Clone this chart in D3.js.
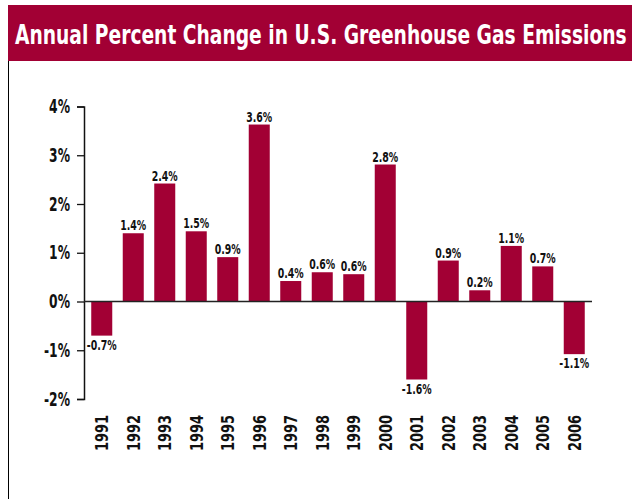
<!DOCTYPE html>
<html>
<head>
<meta charset="utf-8">
<script src="https://cdn.jsdelivr.net/npm/d3@7"></script>
<style>
  body { margin: 0; background: #fff; }
  text { font-family: "DejaVu Sans Condensed", "Liberation Sans Narrow", "Roboto", sans-serif; font-weight: bold; }
</style>
</head>
<body>
<svg width="632" height="499"></svg>
<script>
var years = ["1991","1992","1993","1994","1995","1996","1997","1998","1999","2000","2001","2002","2003","2004","2005","2006"];
var changes = [-0.70, 1.40, 2.42, 1.44, 0.91, 3.63, 0.42, 0.60, 0.56, 2.81, -1.60, 0.84, 0.23, 1.14, 0.72, -1.08];   // bar heights
var valueLabels = ["-0.7%","1.4%","2.4%","1.5%","0.9%","3.6%","0.4%","0.6%","0.6%","2.8%","-1.6%","0.9%","0.2%","1.1%","0.7%","-1.1%"];
var yTicks = [-2, -1, 0, 1, 2, 3, 4];
var title = "Annual Percent Change in U.S. Greenhouse Gas Emissions";

var red = "#a20034";
var narrow = 0.72;   // horizontal squeeze, the original uses a condensed face

var svg = d3.select("svg"),
    width = +svg.attr("width"),
    height = +svg.attr("height");

var data = years.map(function(y, i) { return {year: y, value: changes[i], label: valueLabels[i]}; });

// title bar + left frame line
svg.append("rect")
    .attr("x", 8).attr("y", 5)
    .attr("width", width - 8).attr("height", 56)
    .attr("fill", red);

svg.append("line")
    .attr("x1", 8.5).attr("x2", 8.5)
    .attr("y1", 61).attr("y2", height)
    .attr("stroke", "#000").attr("stroke-width", 1);

var titleText = svg.append("text")
    .attr("fill", "#fff")
    .style("font-size", "26px")
    .text(title);
var tw = titleText.node().getComputedTextLength();
titleText.attr("transform", "translate(15,44) scale(" + (612 / tw) + ",1)");

var x = d3.scaleBand()
    .domain(years)
    .range([84, 592])
    .paddingInner(0.333)
    .paddingOuter(0.23);

var y = d3.scaleLinear()
    .domain([-2, 4])
    .range([399, 106.5]);

// y axis
var yAxis = d3.axisLeft(y)
    .tickValues(yTicks)
    .tickSize(7)
    .tickPadding(7)
    .tickFormat(function(d) { return d + "%"; });

var gy = svg.append("g")
    .attr("transform", "translate(84,0)")
    .call(yAxis);
gy.select(".domain").attr("stroke", "#111").attr("stroke-width", 1.5);
gy.selectAll(".tick line").attr("stroke", "#111").attr("stroke-width", 1.3);
gy.selectAll(".tick text")
    .attr("fill", "#111")
    .attr("font-family", null)
    .attr("font-size", null)
    .style("font-size", "19px")
    .attr("transform", "translate(-14,0) scale(" + narrow + ",1)")
    .attr("x", 0);

// bars
svg.append("g")
    .selectAll("rect")
    .data(data)
    .enter().append("rect")
      .attr("x", function(d) { return x(d.year); })
      .attr("width", x.bandwidth())
      .attr("y", function(d) { return y(Math.max(0, d.value)); })
      .attr("height", function(d) { return Math.abs(y(d.value) - y(0)); })
      .attr("fill", red);

// zero line
svg.append("line")
    .attr("x1", 84).attr("x2", 592)
    .attr("y1", y(0)).attr("y2", y(0))
    .attr("stroke", "#222").attr("stroke-width", 1.6);

// value labels
svg.append("g")
    .selectAll("text")
    .data(data)
    .enter().append("text")
      .attr("transform", function(d) {
        var cx = x(d.year) + x.bandwidth() / 2,
            cy = d.value >= 0 ? y(d.value) - 3 : y(d.value) + 14;
        return "translate(" + cx + "," + cy + ") scale(" + narrow + ",1)";
      })
      .attr("text-anchor", "middle")
      .attr("fill", "#111")
      .style("font-size", "14.5px")
      .text(function(d) { return d.label; });

// year labels, rotated
svg.append("g")
    .selectAll("text")
    .data(years)
    .enter().append("text")
      .attr("transform", function(d) {
        return "translate(" + (x(d) + x.bandwidth() / 2) + ",415) rotate(-90) scale(0.8,1)";
      })
      .attr("dy", "0.36em")
      .attr("text-anchor", "end")
      .attr("fill", "#111")
      .style("font-size", "18px")
      .text(function(d) { return d; });
</script>
</body>
</html>
